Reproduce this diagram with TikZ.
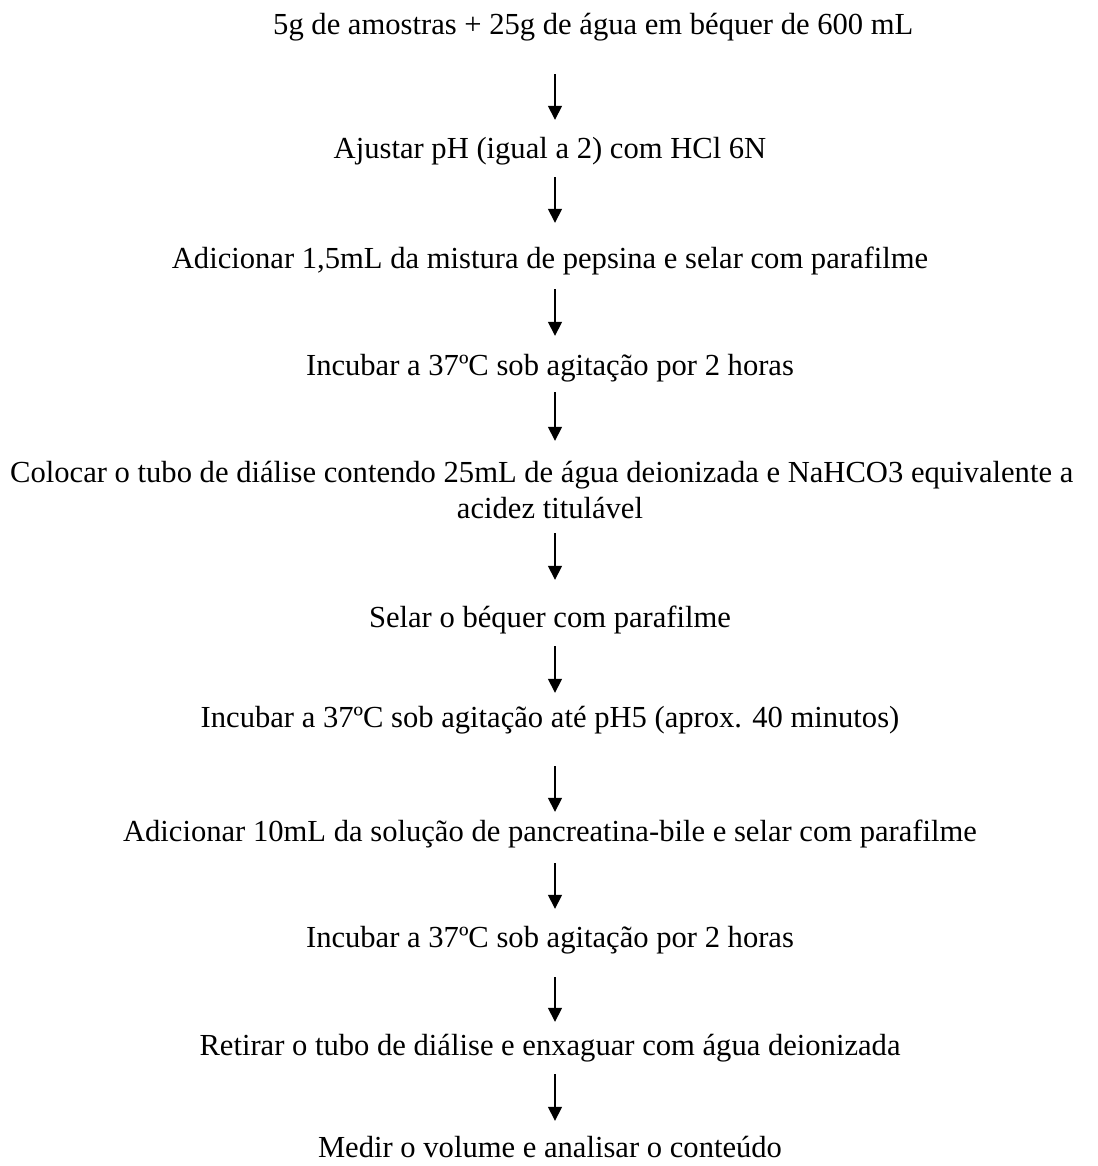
\documentclass[tikz,border=0pt]{standalone}
\usepackage{fontspec}
\setmainfont{Liberation Serif}
\usetikzlibrary{arrows.meta}
\begin{document}
\begin{tikzpicture}[x=1pt,y=1pt,
  txt/.style={anchor=base,inner sep=0pt,text height=22pt,text depth=7pt,font=\fontsize{30.6}{35}\selectfont},
  arr/.style={line width=1.6pt,-{Triangle[length=14pt,width=14pt]}}]
\useasboundingbox (0,0) rectangle (1097,-1166);
\coordinate (axis) at (555,0);
\node[txt,anchor=base west] (t1) at (273,-35) {5g de amostras + 25g de água em béquer de 600 mL};
\node[txt] (t2) at (550,-159) {Ajustar pH (igual a 2) com HCl 6N};
\node[txt] (t3) at (550,-268) {Adicionar 1,5mL da mistura de pepsina e selar com parafilme};
\node[txt] (t4) at (550,-375) {Incubar a 37ºC sob agitação por 2 horas};
\node[txt,anchor=base west] (t5a) at (10,-482) {Colocar o tubo de diálise contendo 25mL de água deionizada e NaHCO3 equivalente a};
\node[txt] (t5b) at (550,-518) {acidez titulável};
\node[txt] (t6) at (550,-627) {Selar o béquer com parafilme};
\node[txt] (t7) at (550,-727) {Incubar a 37ºC sob agitação até pH5 (aprox. 40 minutos)};
\node[txt] (t8) at (550,-841) {Adicionar 10mL da solução de pancreatina-bile e selar com parafilme};
\node[txt] (t9) at (550,-947) {Incubar a 37ºC sob agitação por 2 horas};
\node[txt] (t10) at (550,-1055) {Retirar o tubo de diálise e enxaguar com água deionizada};
\node[txt] (t11) at (550,-1157) {Medir o volume e analisar o conteúdo};
\draw[arr,shorten <=32pt,shorten >=17pt] (t1.south -| axis) -- (t2.north -| axis);
\draw[arr,shorten <=11pt,shorten >=23pt] (t2.south -| axis) -- (t3.north -| axis);
\draw[arr,shorten <=14pt,shorten >=17pt] (t3.south -| axis) -- (t4.north -| axis);
\draw[arr,shorten <=10pt,shorten >=19pt] (t4.south -| axis) -- (t5a.north -| axis);
\draw[arr,shorten <=8pt,shorten >=25pt] (t5b.south -| axis) -- (t6.north -| axis);
\draw[arr,shorten <=12pt,shorten >=12pt] (t6.south -| axis) -- (t7.north -| axis);
\draw[arr,shorten <=32pt,shorten >=7pt] (t7.south -| axis) -- (t8.north -| axis);
\draw[arr,shorten <=15pt,shorten >=16pt] (t8.south -| axis) -- (t9.north -| axis);
\draw[arr,shorten <=23pt,shorten >=11pt] (t9.south -| axis) -- (t10.north -| axis);
\draw[arr,shorten <=12pt,shorten >=14pt] (t10.south -| axis) -- (t11.north -| axis);
\end{tikzpicture}
\end{document}
